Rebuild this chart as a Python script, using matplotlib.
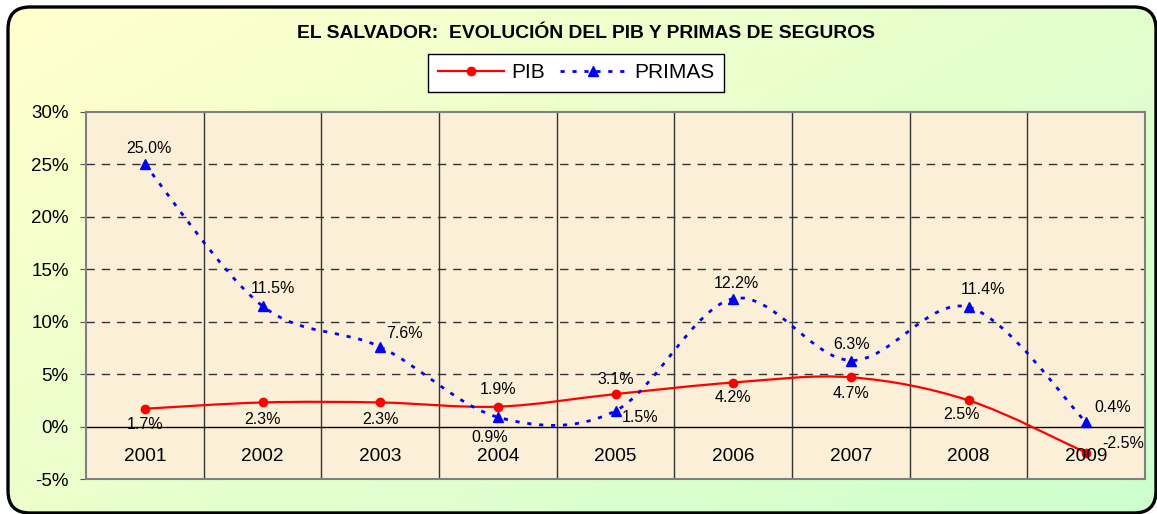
import numpy as np
import matplotlib
matplotlib.use('Agg')
import matplotlib.pyplot as plt
from matplotlib.path import Path
from matplotlib.patches import PathPatch, FancyBboxPatch
from matplotlib.lines import Line2D

# ---------------- data ----------------
years = ['2001', '2002', '2003', '2004', '2005', '2006', '2007', '2008', '2009']
pib = [1.7, 2.3, 2.3, 1.9, 3.1, 4.2, 4.7, 2.5, -2.5]
primas = [25.0, 11.5, 7.6, 0.9, 1.5, 12.2, 6.3, 11.4, 0.4]
yticks = [-5, 0, 5, 10, 15, 20, 25, 30]
ytick_labels = ['-5%', '0%', '5%', '10%', '15%', '20%', '25%', '30%']
title = 'EL SALVADOR:  EVOLUCIÓN DEL PIB Y PRIMAS DE SEGUROS'
series_names = ['PIB', 'PRIMAS']

# label offsets (pixels) for data labels
pib_off = [(0, -16), (0, -17), (0, -17), (0, 17), (0, 15), (0, -15), (0, -16), (-7, -14), (37, 9)]
primas_off = [(4, 16), (10, 17), (24, 13), (-8, -20), (25, -7), (3, 15), (1, 16), (15, 18), (27, 15)]

plt.rcParams['font.family'] = ['Liberation Sans', 'DejaVu Sans']

W, H = 1157, 514
fig = plt.figure(figsize=(W / 100, H / 100), dpi=100)
fig.patch.set_facecolor('white')

# background gradient inside a rounded frame
bg = fig.add_axes([0, 0, 1, 1])
bg.set_axis_off()
bg.set_xlim(0, W)
bg.set_ylim(H, 0)
gx, gy = np.meshgrid(np.linspace(0, 1, 300), np.linspace(0, 1, 150))
t = np.clip(0.6 * gx + 0.45 * gy - 0.05, 0, 1)
c0 = np.array([255, 255, 204]) / 255
c1 = np.array([204, 255, 204]) / 255
img = c0 + (c1 - c0) * t[..., None]
frame = FancyBboxPatch((8, 7), 1148, 506, boxstyle='round,pad=0,rounding_size=22',
                       facecolor='none', edgecolor='black', lw=2.4, zorder=3)
bg.add_patch(frame)
im = bg.imshow(img, extent=(0, W, H, 0), aspect='auto', zorder=1)
im.set_clip_path(frame)

# main axes
ax = fig.add_axes([86 / W, 1 - 479 / H, (1145 - 86) / W, (479 - 112) / H])
ax.set_facecolor('#FCEFD8')
ax.set_xlim(-0.5, len(years) - 0.5)
ax.set_ylim(-5, 30)

for y in yticks:
    if 0 < y < 30:
        ax.axhline(y, color='#333333', lw=1, ls=(0, (6, 5)), zorder=1)
ax.axhline(0, color='black', lw=1, zorder=1)
for k in range(1, len(years)):
    ax.axvline(k - 0.5, color='#333333', lw=1, zorder=1)

for s in ax.spines.values():
    s.set_color('#808080')
    s.set_linewidth(1.5)

ax.set_xticks([])
ax.set_yticks(yticks)
ax.set_yticklabels(ytick_labels)
ax.tick_params(axis='y', direction='out', length=4, pad=8.5, labelsize=13.5, color='#555555')


def smooth_path(xs, ys):
    pts = np.column_stack([xs, ys]).astype(float)
    n = len(pts)
    verts = [pts[0]]
    codes = [Path.MOVETO]
    for i in range(n - 1):
        p0 = pts[i - 1] if i > 0 else pts[i]
        p1 = pts[i]
        p2 = pts[i + 1]
        p3 = pts[i + 2] if i + 2 < n else pts[i + 1]
        c1_ = p1 + (p2 - p0) / 6.0
        c2_ = p2 - (p3 - p1) / 6.0
        verts += [c1_, c2_, p2]
        codes += [Path.CURVE4] * 3
    return Path(verts, codes)


dash = (0, (1.5, 2.8))
x = np.arange(len(years))
ax.add_patch(PathPatch(smooth_path(x, pib), fill=False, edgecolor='red', lw=1.6, zorder=3))
ax.plot(x, pib, ls='none', marker='o', ms=6, color='red', zorder=4)
ax.add_patch(PathPatch(smooth_path(x, primas), fill=False, edgecolor='blue', lw=2,
                       ls=dash, zorder=3))
ax.plot(x, primas, ls='none', marker='^', ms=7, color='blue', zorder=4)

for i, v in enumerate(pib):
    ax.annotate(f'{v:.1f}%', xy=(i, v), xytext=pib_off[i], textcoords='offset pixels',
                ha='center', va='center', fontsize=11.5, zorder=5)
for i, v in enumerate(primas):
    ax.annotate(f'{v:.1f}%', xy=(i, v), xytext=primas_off[i], textcoords='offset pixels',
                ha='center', va='center', fontsize=11.5, zorder=5)

for i, yr in enumerate(years):
    ax.annotate(yr, xy=(i, 0), xytext=(0, -30), textcoords='offset pixels',
                ha='center', va='center', fontsize=13.7, zorder=5)

fig.text(586 / W, 1 - 33 / H, title, ha='center', va='center', fontsize=13.9, fontweight='bold')

handles = [Line2D([], [], color='red', lw=1.6, marker='o', ms=6),
           Line2D([], [], color='blue', lw=2, ls=dash, marker='^', ms=7)]
leg = fig.legend(handles, series_names, loc='center', bbox_to_anchor=(576 / W, 1 - 73 / H),
                 ncol=2, frameon=True, fancybox=False, edgecolor='black', framealpha=1,
                 fontsize=15, handlelength=3.2, columnspacing=0.7, handletextpad=0.35,
                 borderpad=0.45, borderaxespad=0)
leg.get_frame().set_linewidth(1)

fig.savefig('out.png', dpi=100)
